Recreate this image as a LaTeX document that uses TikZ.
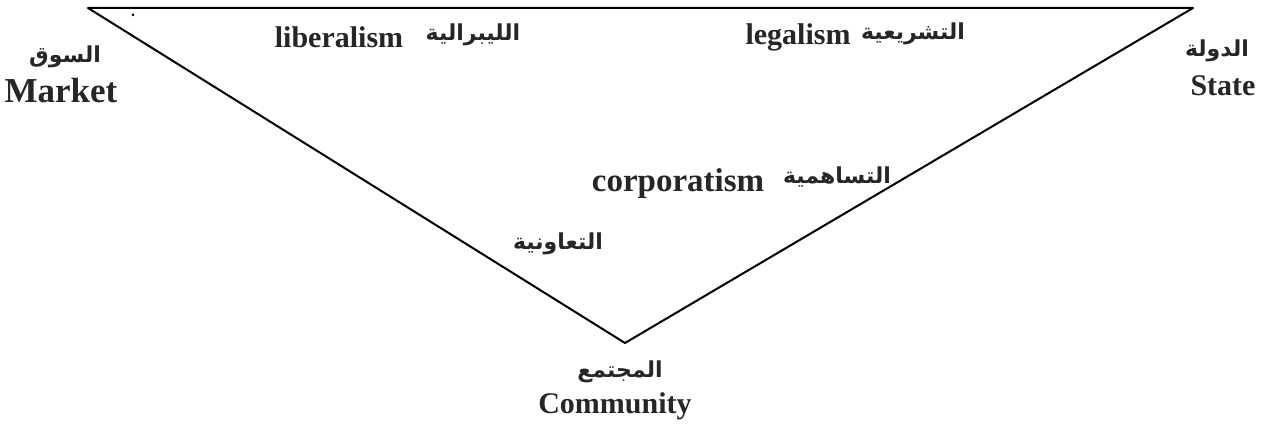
\documentclass[tikz,border=0pt]{standalone}
\usepackage{fontspec}
\setmainfont{Liberation Serif}
\newfontfamily\arabicfont[Script=Arabic]{DejaVu Sans}
\TeXXeTstate=1

\tikzset{
  en/.style={font=\fontsize{15}{17}\selectfont\bfseries, text=black!85},
  ar/.style={font=\fontsize{11}{13}\arabicfont\bfseries, text=black!85}
}

\begin{document}
\begin{tikzpicture}[x=0.5pt,y=-0.5pt,line join=round]
                \useasboundingbox (0,0) rectangle (1271,427);
                \coordinate (market) at (88,8);
                \coordinate (state) at (1193,8);
                \coordinate (community) at (625,343);
                \draw[line width=1pt] (market)--(state)--(community)--cycle;
                \fill (133,15) circle (1.5);
                % corners
                \node[ar] (marketAr) at (65,57) {\beginR السوق\endR};
                \node[en,font=\fontsize{17.5}{19}\selectfont\bfseries] (marketEn) at (61,91) {Market};
                \node[ar] (stateAr) at (1217,51) {\beginR الدولة\endR};
                \node[en] (stateEn) at (1223,86) {State};
                \node[ar] (communityAr) at (620,372) {\beginR المجتمع\endR};
                \node[en] (communityEn) at (615,406) {Community};
                % sides
                \node[en] (liberal) at (339,37) {liberalism};
                \node[ar] (liberalAr) at (473,35) {\beginR الليبرالية\endR};
                \node[en] (legal) at (798,37) {legalism};
                \node[ar] (legalAr) at (913,34) {\beginR التشريعية\endR};
                \node[en,font=\fontsize{16.5}{18}\selectfont\bfseries] (corp) at (678,184) {corporatism};
                \node[ar] (corpAr) at (837,177) {\beginR التساهمية\endR};
                \node[ar] (coopAr) at (558,244) {\beginR التعاونية\endR};
            \end{tikzpicture}
\end{document}
